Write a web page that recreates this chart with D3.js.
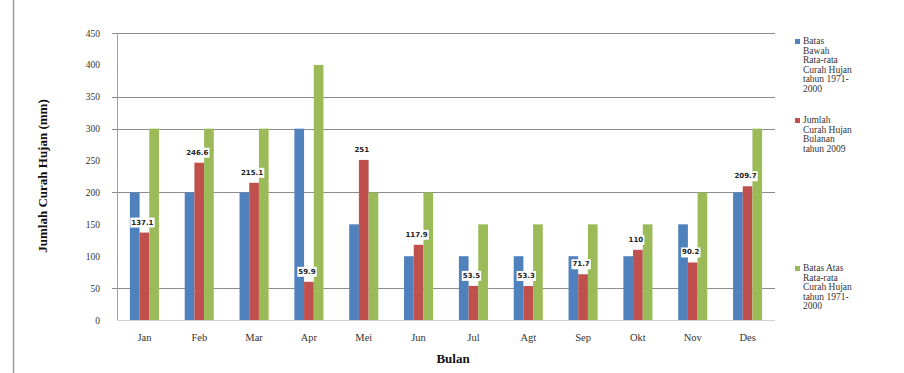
<!DOCTYPE html>
<html>
<head>
<meta charset="utf-8">
<script src="https://cdn.jsdelivr.net/npm/d3@7"></script>
<style>
  html, body { margin: 0; padding: 0; background: #fff; }
  svg { display: block; }
</style>
</head>
<body>
<svg id="chart" width="904" height="373"></svg>
<script>
const months = ["Jan", "Feb", "Mar", "Apr", "Mei", "Jun", "Jul", "Agt", "Sep", "Okt", "Nov", "Des"];
const batasBawah = [200, 200, 200, 300, 150, 100, 100, 100, 100, 100, 150, 200];
const jumlah2009 = [137.1, 246.6, 215.1, 59.9, 251.0, 117.9, 53.5, 53.3, 71.7, 110.0, 90.2, 209.7];
const batasAtas = [300, 300, 300, 400, 200, 200, 150, 150, 150, 150, 200, 300];
const jumlahLabels = ["137.1", "246.6", "215.1", "59.9", "251", "117.9", "53.5", "53.3", "71.7", "110", "90.2", "209.7"];
const yTicks = [0, 50, 100, 150, 200, 250, 300, 350, 400, 450];
const gridValues = [50, 200, 300, 350, 450];
const seriesNames = ["Batas Bawah", "Jumlah", "Batas Atas"];
const legendLines = [
  ["Batas", "Bawah", "Rata-rata", "Curah Hujan", "tahun 1971-", "2000"],
  ["Jumlah", "Curah Hujan", "Bulanan", "tahun 2009"],
  ["Batas Atas", "Rata-rata", "Curah Hujan", "tahun 1971-", "2000"]
];
const colors = ["#4F81BD", "#C0504D", "#9BBB59"];

const svg = d3.select("#chart");
const pLeft = 117, pRight = 775, pTop = 33, pBottom = 320;

const x = d3.scaleBand().domain(months).range([pLeft, pRight]).paddingInner(0.47).paddingOuter(0.235);
const xs = d3.scaleBand().domain(seriesNames).range([0, x.bandwidth()]).padding(0);
const y = d3.scaleLinear().domain([0, 450]).range([pBottom, pTop]);

// outer border line on the left
svg.append("line").attr("x1", 13.5).attr("x2", 13.5).attr("y1", 0).attr("y2", 373)
  .attr("stroke", "#9a9a9a").attr("stroke-width", 1.5);

// gridlines
svg.append("g").selectAll("line").data(gridValues).join("line")
  .attr("x1", pLeft - 5).attr("x2", pRight)
  .attr("y1", d => Math.round(y(d)) + 0.5).attr("y2", d => Math.round(y(d)) + 0.5)
  .attr("stroke", "#8c8c8c").attr("stroke-width", 1);

// y axis
const yAxis = d3.axisLeft(y).tickValues(yTicks).tickSize(0).tickPadding(17);
const gy = svg.append("g").attr("transform", `translate(${pLeft},0)`).call(yAxis);
gy.select(".domain").attr("stroke", "#a0a0a0");
gy.selectAll("text").attr("font-family", "Liberation Serif, serif").attr("font-size", 9.5).attr("fill", "#333");

// baseline
svg.append("line").attr("x1", pLeft).attr("x2", pRight).attr("y1", pBottom + 0.5).attr("y2", pBottom + 0.5)
  .attr("stroke", "#d0d0d0");

// bars
const seriesData = [batasBawah, jumlah2009, batasAtas];
seriesData.forEach((vals, si) => {
  svg.append("g").selectAll("rect").data(vals).join("rect")
    .attr("x", (d, i) => x(months[i]) + xs(seriesNames[si]))
    .attr("width", xs.bandwidth())
    .attr("y", d => y(d))
    .attr("height", d => y(0) - y(d))
    .attr("fill", colors[si]);
});

// data labels for Jumlah
const lbl = svg.append("g");
jumlah2009.forEach((v, i) => {
  const cx = x(months[i]) + xs(seriesNames[1]) + xs.bandwidth() / 2 - 2;
  const cy = y(v) - 11;
  const t = lbl.append("text").attr("x", cx).attr("y", cy + 3)
    .attr("text-anchor", "middle").attr("font-family", "DejaVu Sans, sans-serif")
    .attr("font-size", 7).attr("font-weight", "bold").attr("fill", "#222")
    .text(jumlahLabels[i]);
  const bb = t.node().getBBox();
  lbl.insert("rect", "text").attr("x", bb.x - 1).attr("y", bb.y - 1)
    .attr("width", bb.width + 2).attr("height", bb.height + 2).attr("fill", "#fff");
});

// x axis labels
const xAxis = d3.axisBottom(x).tickSize(0).tickPadding(14);
const gx = svg.append("g").attr("transform", `translate(0,${pBottom})`).call(xAxis);
gx.select(".domain").remove();
gx.selectAll("text").attr("font-family", "Liberation Serif, serif").attr("font-size", 10.5).attr("fill", "#333");

// axis titles
svg.append("text").attr("x", 453).attr("y", 363).attr("text-anchor", "middle")
  .attr("font-family", "Liberation Serif, serif").attr("font-weight", "bold").attr("font-size", 13)
  .attr("fill", "#111").text("Bulan");
svg.append("text").attr("transform", "translate(47,176) rotate(-90)").attr("text-anchor", "middle")
  .attr("font-family", "Liberation Serif, serif").attr("font-weight", "bold").attr("font-size", 13)
  .attr("fill", "#111").text("Jumlah Curah Hujan (mm)");

// legend
const legendTops = [44, 123, 271];
const legend = svg.append("g");
legendLines.forEach((lines, i) => {
  legend.append("rect").attr("x", 795).attr("y", legendTops[i] - 5).attr("width", 5).attr("height", 5)
    .attr("fill", colors[i]);
  lines.forEach((ln, j) => {
    legend.append("text").attr("x", 803).attr("y", legendTops[i] + j * 9.6)
      .attr("font-family", "Liberation Serif, serif").attr("font-size", 9.5).attr("fill", "#333")
      .text(ln);
  });
});
</script>
</body>
</html>
